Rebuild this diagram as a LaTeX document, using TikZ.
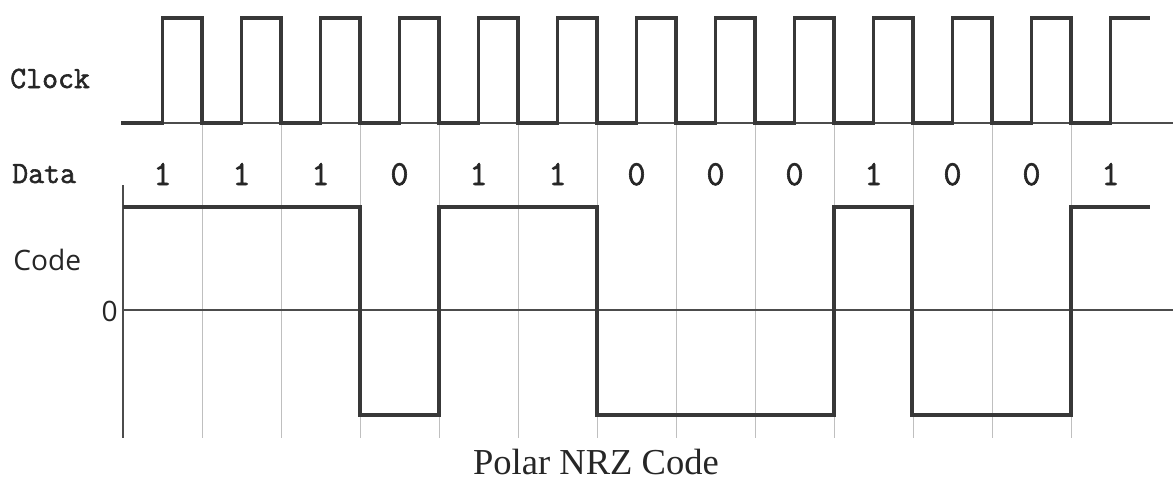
\documentclass[tikz,border=0pt]{standalone}
\usepackage{fontspec}
\setmainfont{Liberation Serif}
\newfontfamily\labelfont{Open Sans}
\newfontfamily\signalfont[BoldFont={Latin Modern Mono}, BoldFeatures={FakeBold=1.8}]{Latin Modern Mono}
\usetikzlibrary{positioning}

\begin{document}
\begin{tikzpicture}
    %defining some styles
    [
        x=0.025cm, y=-0.025cm,
        wave/.style={line width=2.8pt, draw=black!78, line join=miter},
        axis/.style={line width=0.9pt, draw=black!70},
        grid/.style={line width=0.6pt, draw=black!25},
        tt/.style={font=\fontsize{22}{22}\signalfont\bfseries, text=black!85, inner sep=0pt},
        bit/.style={font=\fontsize{25}{25}\signalfont\bfseries, text=black!85, inner sep=0pt},
        sans/.style={font=\fontsize{20}{20}\labelfont, text=black!85, inner sep=0pt},
    ]
    \useasboundingbox (0,0) rectangle (1173,481);

    % bit cell boundaries
    \foreach \k in {1,...,12}
        \draw[grid] ({123+79*\k},123) -- ({123+79*\k},438);

    % base lines
    \draw[axis] (123,123) -- (1173,123);
    \draw[axis] (123,310) -- (1173,310);
    \draw[axis] (123,185) -- (123,438);

    % clock
    \draw[wave] (121,123)
        \foreach \k in {0,...,11} {
            -- ({162.5+79*\k},123) -- ({162.5+79*\k},18)
            -- ({202+79*\k},18) -- ({202+79*\k},123)
        }
        -- (1110.5,123) -- (1110.5,18) -- (1150,18);

    % polar NRZ line
    \draw[wave] (123,207) -- (360,207) -- (360,415) -- (439,415) -- (439,207)
        -- (597,207) -- (597,415) -- (834,415) -- (834,207) -- (912,207)
        -- (912,415) -- (1071,415) -- (1071,207) -- (1150,207);

    % labels
    \node[tt, anchor=base west] (clk) at (10,88) {Clock};
    \node[tt, anchor=base west] (data) at (12,183) {Data};
    \node[sans, anchor=base west] (code) at (13,270) {Code};
    \node[sans, anchor=base east] (zero) at (118,321) {0};
    \foreach \b [count=\i from 0] in {1,1,1,0,1,1,0,0,0,1,0,0,1}
        \node[bit, anchor=base] (d\i) at ({162.5+79*\i},185) {\b};

    \node[font=\fontsize{26}{26}\selectfont, text=black!85, inner sep=0pt, anchor=base] (title) at (596,474) {Polar NRZ Code};
\end{tikzpicture}
\end{document}
